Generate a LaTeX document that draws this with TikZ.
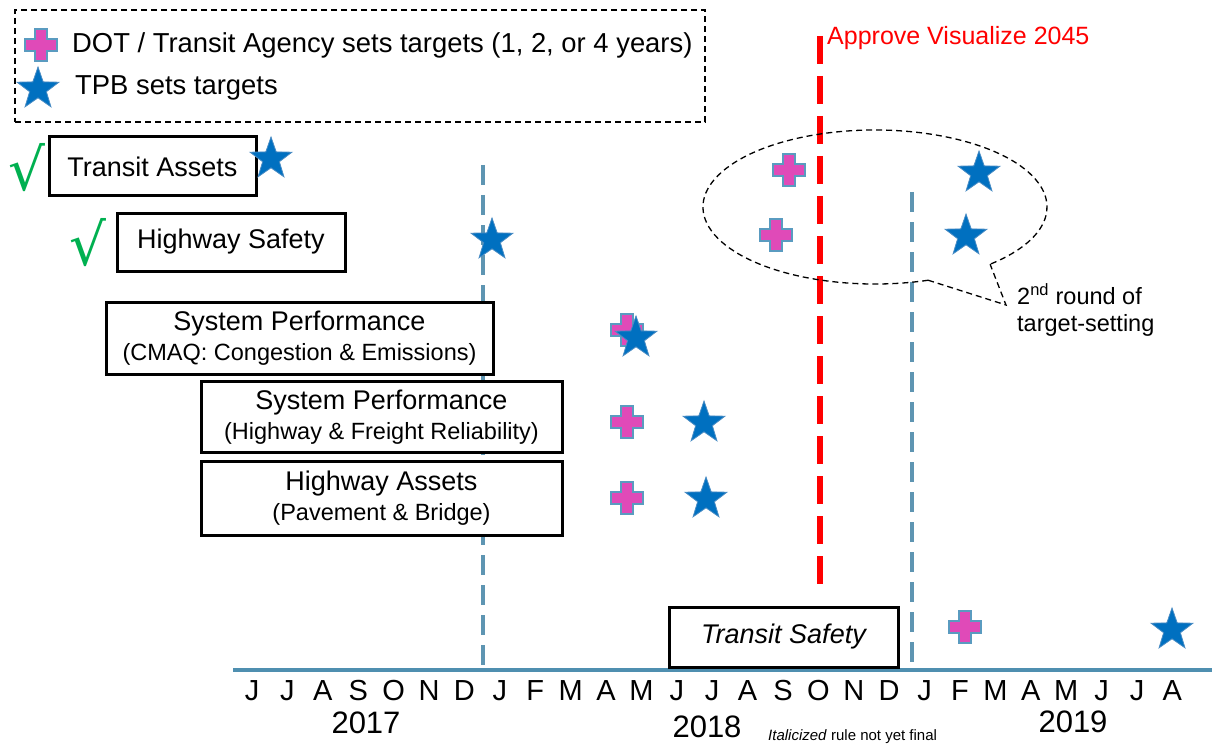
\documentclass[tikz,border=0pt]{standalone}
\usepackage{fontspec}
\setmainfont{Liberation Sans}
\newfontfamily\checkfont{DejaVu Sans}
\usetikzlibrary{shapes.geometric,calc}
\definecolor{plusfill}{HTML}{E04AB8}
\definecolor{plusedge}{HTML}{5A9BC0}
\definecolor{starfill}{HTML}{0070C0}
\definecolor{staredge}{HTML}{4A8CC4}
\definecolor{axisblue}{HTML}{4F8FB0}
\definecolor{vblue}{HTML}{5E95B2}
\definecolor{checkgreen}{HTML}{00B050}
\definecolor{redline}{HTML}{FF0000}
\newcommand{\fs}[1]{\fontsize{#1}{#1}\selectfont}
\tikzset{
  starmark/.style={star, star points=5, star point ratio=2.5, minimum size=44pt, inner sep=0pt,
    fill=starfill, draw=staredge, line width=0.8pt},
  plusmark/.pic={\filldraw[fill=plusfill, draw=plusedge, line width=1.4pt]
    (-16,-6) -- (-6,-6) -- (-6,-16) -- (6,-16) -- (6,-6) -- (16,-6) -- (16,6) -- (6,6)
    -- (6,16) -- (-6,16) -- (-6,6) -- (-16,6) -- cycle;},
  mbox/.style={draw=black, line width=3pt, fill=white, inner sep=0pt, align=center, font=\fs{27}},
  checkm/.style={text=checkgreen, font=\checkfont\fs{58}, inner sep=0pt},
  month/.style={font=\fs{29}, inner sep=0pt, anchor=center},
  year/.style={font=\fs{31}, inner sep=0pt, anchor=center},
  vdash/.style={draw=vblue, line width=4pt, dash pattern=on 20pt off 10pt},
  reddash/.style={draw=redline, line width=6pt, dash pattern=on 28pt off 12pt},
  thindash/.style={draw=black, line width=1.3pt, dash pattern=on 6pt off 4pt},
}
\begin{document}
\begin{tikzpicture}[x=1pt,y=-1pt]
\useasboundingbox (0,0) rectangle (1212,746);
% legend
\node[thindash, minimum width=690pt, minimum height=112pt, inner sep=0pt] (legend) at (360,66) {};
\pic at (41,45) {plusmark};
\node[anchor=west, font=\fs{27.4}, inner sep=0pt] (leg1) at (72,45) {DOT / Transit Agency sets targets (1, 2, or 4 years)};
\node[starmark] (legstar) at (38,89) {};
\node[anchor=west, font=\fs{27.4}, inner sep=0pt] (leg2) at (75,88) {TPB sets targets};
% vertical lines
\coordinate (v1t) at (483,165); \coordinate (v1b) at (483,670);
\coordinate (v2t) at (912,192); \coordinate (v2b) at (912,670);
\coordinate (rt) at (820,36); \coordinate (rb) at (820,594);
\draw[vdash] (v1t) -- (v1b);
\draw[vdash] (v2t) -- (v2b);
\draw[reddash] (rt) -- (rb);
\node[anchor=west, text=redline, font=\fs{25}, inner sep=0pt] (approve) at (827,38) {Approve Visualize 2045};
% axis
\coordinate (axl) at (233,670); \coordinate (axr) at (1212,670);
\draw[axisblue, line width=3.5pt] (axl) -- (axr);
% boxes
\node[mbox, minimum width=207pt, minimum height=59pt] (ta) at (152.5,166.5) {Transit Assets};
\node[mbox, minimum width=228pt, minimum height=58pt] (hs) at (231,242) {Highway Safety};
\node[mbox, minimum width=387pt, minimum height=72pt] (sp1) at (299.5,338)
  {System Performance\\[3pt]{\fs{23.5}(CMAQ: Congestion \& Emissions)}};
\node[mbox, minimum width=361pt, minimum height=71pt] (sp2) at (381.5,417)
  {System Performance\\[3pt]{\fs{23.5}(Highway \& Freight Reliability)}};
\node[mbox, minimum width=361pt, minimum height=74pt] (ha) at (381.5,498)
  {Highway Assets\\[3pt]{\fs{23.5}(Pavement \& Bridge)}};
\node[mbox, minimum width=229pt, minimum height=60pt, font=\fs{27}\itshape] (ts) at (783.5,637) {Transit Safety};
% checks
\node[checkm] (c1) at (27,168) {√};
\node[checkm] (c2) at (88,243) {√};
% markers
\node[starmark] (s1) at (271,159) {};
\node[starmark] (s2) at (492,240) {};
\pic at (627,330) {plusmark};
\node[starmark] (s3) at (636,338) {};
\pic at (627,422) {plusmark};
\node[starmark] (s4) at (704,423) {};
\pic at (627,498) {plusmark};
\node[starmark] (s5) at (706,499) {};
\pic at (789,170) {plusmark};
\pic at (776,235) {plusmark};
\node[starmark] (s6) at (979,173) {};
\node[starmark] (s7) at (966,236) {};
\pic at (965,627) {plusmark};
\node[starmark] (s8) at (1172,630) {};
% callout ellipse
\coordinate (ec) at (875,207);
\coordinate (ea) at ($(ec)+(72:172 and 77)$);
\coordinate (eb) at ($(ec)+(48:172 and 77)$);
\coordinate (tip) at (1006,305);
\draw[thindash] (ea) arc[start angle=72, end angle=408, x radius=172, y radius=77];
\draw[thindash] (ea) -- (tip) -- (eb);
\node[anchor=west, font=\fs{23.5}, inner sep=0pt, align=left] (round) at (1017,310)
  {2\textsuperscript{nd} round of\\[3pt]target-setting};
% months
\foreach \m [count=\i from 0] in {J,J,A,S,O,N,D,J,F,M,A,M,J,J,A,S,O,N,D,J,F,M,A,M,J,J,A} {
  \node[month] (m\i) at (252+35.4*\i,691) {\m};
}
\node[year] (y17) at (366,723) {2017};
\node[year] (y18) at (707,727) {2018};
\node[year] (y19) at (1073,722) {2019};
\node[anchor=west, font=\fs{15}, inner sep=0pt] (note) at (768,737) {\textit{Italicized} rule not yet final};
\end{tikzpicture}
\end{document}
